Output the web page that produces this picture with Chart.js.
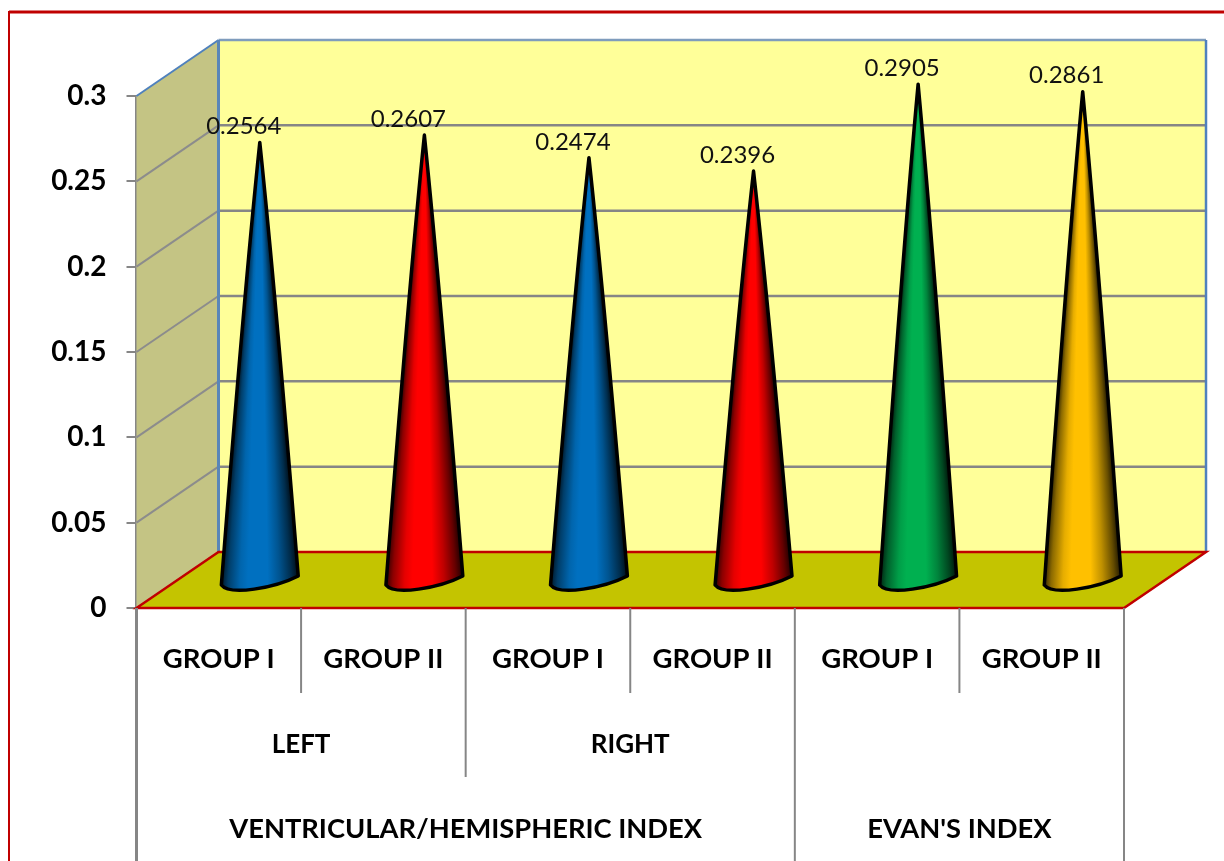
<!DOCTYPE html>
<html>
<head>
<meta charset="utf-8">
<title>Ventricular/Hemispheric Index and Evan's Index</title>
<script src="https://cdn.jsdelivr.net/npm/chart.js@4"></script>
<style>
    html, body { margin: 0; padding: 0; background: #fff; overflow: hidden; }
    canvas { display: block; }
</style>
</head>
<body>
<canvas id="coneChart" width="1224" height="861"></canvas>
<script>
// Chart data
const groupLabels = ['GROUP I', 'GROUP II', 'GROUP I', 'GROUP II', 'GROUP I', 'GROUP II'];
const values = [0.2564, 0.2607, 0.2474, 0.2396, 0.2905, 0.2861];
const coneColors = ['#0070c0', '#ff0000', '#0070c0', '#ff0000', '#00b050', '#ffc000'];
const sideLabels = ['LEFT', 'RIGHT', ''];
const sideSpans = [2, 2, 2];
const indexLabels = ['VENTRICULAR/HEMISPHERIC INDEX', "EVAN'S INDEX"];
const indexSpans = [4, 2];

// 3D look: how far the back wall is shifted from the front plane
const depthX = 82;
const depthY = -56;

// Brightness across a cone, left edge to right edge
const shadeStops = [[0, 0.15], [0.1, 0.55], [0.25, 0.9], [0.35, 1], [0.6, 1], [0.75, 0.75], [0.9, 0.4], [1, 0.1]];

function polygon(ctx, points) {
    ctx.beginPath();
    points.forEach((p, i) => i ? ctx.lineTo(p[0], p[1]) : ctx.moveTo(p[0], p[1]));
    ctx.closePath();
}

function line(ctx, x1, y1, x2, y2, color, width) {
    ctx.strokeStyle = color;
    ctx.lineWidth = width;
    ctx.beginPath();
    ctx.moveTo(x1, y1);
    ctx.lineTo(x2, y2);
    ctx.stroke();
}

// Darken a colour towards black for the cone shading
function shade(hex, k) {
    const n = parseInt(hex.slice(1), 16);
    const r = Math.round((n >> 16 & 255) * k);
    const g = Math.round((n >> 8 & 255) * k);
    const b = Math.round((n & 255) * k);
    return `rgb(${r}, ${g}, ${b})`;
}

const framePlugin = {
    id: 'frame',
    beforeDraw(chart) {
        const ctx = chart.ctx;
        ctx.save();
        ctx.fillStyle = '#ffffff';
        ctx.fillRect(0, 0, chart.width, chart.height);
        line(ctx, 9, 12, 1224, 12, '#c00000', 3);
        line(ctx, 9, 11, 9, 861, '#c00000', 2);
        ctx.restore();
    }
};

const wallsPlugin = {
    id: 'walls',
    beforeDatasetsDraw(chart) {
        const ctx = chart.ctx;
        const x = chart.scales.x;
        const y = chart.scales.y;
        const left = x.left;
        const right = x.right;
        const top = y.getPixelForValue(0.3);
        const bottom = y.getPixelForValue(0);
        ctx.save();

        // Side wall
        polygon(ctx, [[left, top], [left + depthX, top + depthY], [left + depthX, bottom + depthY], [left, bottom]]);
        ctx.fillStyle = '#c4c484';
        ctx.fill();

        // Back wall
        ctx.fillStyle = '#ffff99';
        ctx.fillRect(left + depthX, top + depthY, right - left, bottom - top);

        // Gridlines
        y.ticks.forEach(tick => {
            const py = y.getPixelForValue(tick.value);
            if (tick.value > 0 && tick.value < 0.3) {
                line(ctx, left, py, left + depthX, py + depthY, '#8c8c8c', 2);
                line(ctx, left + depthX, py + depthY, right + depthX, py + depthY, '#868686', 2.5);
            }
        });

        // Wall outline
        line(ctx, left, top, left + depthX, top + depthY, '#4f81bd', 2);
        line(ctx, left + depthX, top + depthY, right + depthX, top + depthY, '#7f9cbd', 2.5);
        line(ctx, left + depthX, top + depthY, left + depthX, bottom + depthY, '#5a86b8', 3);
        line(ctx, right + depthX, top + depthY, right + depthX, bottom + depthY, '#4f81bd', 2.5);

        // Floor
        polygon(ctx, [[left, bottom], [left + depthX, bottom + depthY], [right + depthX, bottom + depthY], [right, bottom]]);
        ctx.fillStyle = '#c4c400';
        ctx.fill();
        ctx.strokeStyle = '#c00000';
        ctx.lineWidth = 2.5;
        ctx.stroke();
        ctx.restore();
    }
};

// The bars are invisible, each cone is drawn from its bar element
const conesPlugin = {
    id: 'cones',
    afterDatasetsDraw(chart) {
        const ctx = chart.ctx;
        const bars = chart.getDatasetMeta(0).data;
        ctx.save();
        bars.forEach((bar, i) => {
            const cx = bar.x + depthX / 2;
            const tipY = bar.y + depthY / 2;
            const baseY = bar.base + depthY / 2;
            const half = bar.width / 2;
            const height = baseY - tipY;
            const color = coneColors[i];

            // Outline, the sides bulge a little near the tip
            const outline = new Path2D();
            outline.moveTo(cx, tipY);
            outline.quadraticCurveTo(cx + half * 0.35 + 2.5, tipY + height * 0.35, cx + half, baseY - 3);
            outline.bezierCurveTo(cx + 15, baseY + 9, cx - 30, baseY + 17, cx - half, baseY + 6);
            outline.quadraticCurveTo(cx - half * 0.35 - 2.5, tipY + height * 0.35, cx, tipY);
            outline.closePath();

            // Shading follows the cone width, filled one pixel row at a time
            ctx.save();
            ctx.clip(outline);
            for (let py = Math.floor(tipY); py < baseY + 20; py++) {
                const w = half * Math.min(1, (py + 0.5 - tipY) / height) + 1;
                const grad = ctx.createLinearGradient(cx - w, 0, cx + w, 0);
                shadeStops.forEach(stop => grad.addColorStop(stop[0], shade(color, stop[1])));
                ctx.fillStyle = grad;
                ctx.fillRect(cx - w - 4, py, 2 * w + 8, 1);
            }
            ctx.restore();

            ctx.strokeStyle = '#000000';
            ctx.lineWidth = 3.5;
            ctx.lineJoin = 'round';
            ctx.stroke(outline);

            // Value label
            ctx.fillStyle = '#111111';
            ctx.font = '24px Lato';
            ctx.textAlign = 'center';
            ctx.textBaseline = 'middle';
            ctx.fillText(values[i].toFixed(4), cx - 16, tipY - 16);
        });
        ctx.restore();
    }
};

// Lower rows of the category axis and their separators
const axisRowsPlugin = {
    id: 'axisRows',
    afterDraw(chart) {
        const ctx = chart.ctx;
        const x = chart.scales.x;
        const bottom = chart.scales.y.getPixelForValue(0);
        const step = (x.right - x.left) / groupLabels.length;
        ctx.save();

        // Separators, longer where a higher level group ends
        for (let i = 1; i < groupLabels.length; i++) {
            const px = x.left + i * step;
            let end = 693;
            if (i === 2) end = 777;
            if (i === 4) end = chart.height;
            line(ctx, px, bottom, px, end, '#868686', 2);
        }
        line(ctx, x.right, bottom, x.right, chart.height, '#868686', 2);
        line(ctx, x.left, bottom, x.left, chart.height, '#868686', 3);

        ctx.fillStyle = '#000000';
        ctx.textAlign = 'center';
        ctx.textBaseline = 'middle';

        function drawRow(labels, spans, py) {
            let start = 0;
            labels.forEach((label, i) => {
                const px = x.left + (start + spans[i] / 2) * step;
                ctx.fillText(label, px, py);
                start += spans[i];
            });
        }
        ctx.font = 'bold 26px Lato';
        drawRow(sideLabels, sideSpans, 745);
        ctx.font = 'bold 27.3px Lato';
        drawRow(indexLabels, indexSpans, 829);
        ctx.restore();
    }
};

new Chart(document.getElementById('coneChart'), {
    type: 'bar',
    data: {
        labels: groupLabels,
        datasets: [{
            data: values,
            backgroundColor: 'rgba(0, 0, 0, 0)',
            borderWidth: 0,
            categoryPercentage: 1,
            barPercentage: 0.467
        }]
    },
    options: {
        responsive: false,
        animation: false,
        layout: {
            padding: { left: 0, top: 96, right: 100, bottom: 0 }
        },
        plugins: {
            legend: { display: false },
            tooltip: { enabled: false },
            title: { display: false }
        },
        scales: {
            x: {
                afterFit: function(scale) { scale.height = 861 - 608; },
                grid: { display: false },
                border: { display: false },
                ticks: {
                    color: '#000000',
                    font: { family: 'Lato', size: 27.5, weight: 'bold' },
                    padding: 27,
                    maxRotation: 0,
                    autoSkip: false
                }
            },
            y: {
                min: 0,
                max: 0.3,
                afterFit: function(scale) { scale.width = 136.5; },
                grid: {
                    drawOnChartArea: false,
                    color: '#868686',
                    lineWidth: 2,
                    tickLength: 10
                },
                border: { color: '#868686', width: 3 },
                ticks: {
                    stepSize: 0.05,
                    color: '#000000',
                    font: { family: 'Lato', size: 28, weight: 'bold' },
                    padding: 20,
                    callback: function(value) {
                        return String(+value.toFixed(2));
                    }
                }
            }
        }
    },
    plugins: [framePlugin, wallsPlugin, conesPlugin, axisRowsPlugin]
});
</script>
</body>
</html>
